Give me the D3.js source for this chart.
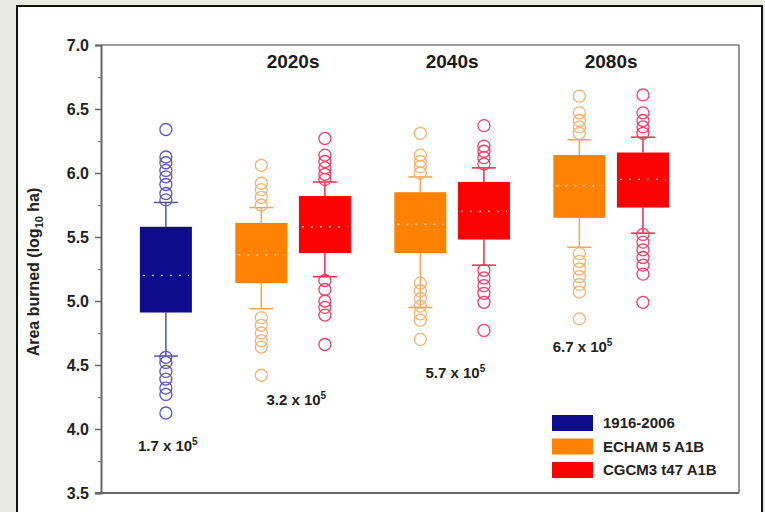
<!DOCTYPE html>
<html>
<head>
<meta charset="utf-8">
<script src="https://cdn.jsdelivr.net/npm/d3@7/dist/d3.min.js"></script>
<style>
  html, body { margin: 0; padding: 0; background: #e9ebe2; }
  svg { display: block; font-family: "Liberation Sans", Arial, sans-serif; }
</style>
</head>
<body>
<svg id="chart" width="765" height="512"></svg>
<script>
// Series and periods
const seriesNames = ["1916-2006", "ECHAM 5 A1B", "CGCM3 t47 A1B"];
const periodLabels = ["2020s", "2040s", "2080s"];
const periodSlots = [2, 4.5, 7];

// One box per entry: series index and slot along the x axis
const boxSeries = [0, 1, 2, 1, 2, 1, 2];
const boxSlots = [0, 1.5, 2.5, 4, 5, 6.5, 7.5];

// Box statistics (log10 ha)
const q1Values = [4.91, 5.14, 5.375, 5.375, 5.48, 5.65, 5.73];
const medianValues = [5.20, 5.36, 5.58, 5.60, 5.70, 5.90, 5.95];
const q3Values = [5.58, 5.61, 5.82, 5.85, 5.93, 6.14, 6.16];
const whiskerLow = [4.57, 4.94, 5.19, 4.95, 5.28, 5.42, 5.53];
const whiskerHigh = [5.77, 5.73, 5.93, 5.97, 6.04, 6.26, 6.28];

// Outlying years above and below the whiskers
const outliersHigh = [
  [5.79, 5.84, 5.91, 5.97, 6.02, 6.08, 6.125, 6.34],
  [5.75, 5.81, 5.87, 5.92, 6.06],
  [5.95, 5.99, 6.04, 6.09, 6.14, 6.27],
  [6.0, 6.05, 6.09, 6.14, 6.31],
  [6.07, 6.12, 6.17, 6.21, 6.37],
  [6.31, 6.36, 6.41, 6.47, 6.6],
  [6.31, 6.36, 6.41, 6.47, 6.61]
];
const outliersLow = [
  [4.56, 4.52, 4.45, 4.39, 4.32, 4.27, 4.125],
  [4.87, 4.81, 4.75, 4.69, 4.64, 4.42],
  [5.16, 5.09, 5.0, 4.95, 4.89, 4.66],
  [5.14, 5.08, 5.02, 4.96, 4.9, 4.85, 4.7],
  [5.24, 5.18, 5.12, 5.06, 4.99, 4.77],
  [5.37, 5.31, 5.25, 5.19, 5.13, 5.07, 4.86],
  [5.52, 5.46, 5.4, 5.34, 5.28, 5.21, 4.99]
];

// Mean annual area burned notes
const areaNotes = ["1.7 x 10", "3.2 x 10", "5.7 x 10", "6.7 x 10"];
const areaNoteExp = ["5", "5", "5", "5"];
const areaNoteSlots = [0.03, 2.05, 4.55, 6.55];
const areaNoteValues = [3.83, 4.19, 4.40, 4.60];

// Axis ticks
const yMajorTicks = [3.5, 4.0, 4.5, 5.0, 5.5, 6.0, 6.5, 7.0];
const yMinorTicks = [3.75, 4.25, 4.75, 5.25, 5.75, 6.25, 6.75];

// Styling
const boxColors = ["#0e0b8c", "#ff8204", "#fc0303"];
const whiskerColors = ["#55559e", "#f4a458", "#f5284a"];
const outlierColors = ["#5a58c0", "#f6b274", "#ee4068"];

const svg = d3.select("#chart");

// Page panel with black frame
svg.append("rect")
  .attr("x", 17).attr("y", 6)
  .attr("width", 745).attr("height", 530)
  .attr("fill", "#ffffff")
  .attr("stroke", "#111").attr("stroke-width", 2);

const plot = { left: 101, right: 739, top: 45, bottom: 493 };

const x = d3.scaleLinear().domain([-1.02, 9.01]).range([plot.left, plot.right]);
const y = d3.scaleLinear().domain([3.5, 7.0]).range([plot.bottom, plot.top]);
const boxW = 52;

// Plot frame
svg.append("line")
  .attr("x1", plot.left).attr("x2", plot.right)
  .attr("y1", plot.top).attr("y2", plot.top)
  .attr("stroke", "#7c7c7c").attr("stroke-width", 1.6);
svg.append("line")
  .attr("x1", plot.right).attr("x2", plot.right)
  .attr("y1", plot.top).attr("y2", plot.bottom)
  .attr("stroke", "#7c7c7c").attr("stroke-width", 1.6);

// Y axis with major and minor ticks
const yAxis = d3.axisLeft(y)
  .tickValues(yMajorTicks)
  .tickFormat(d3.format(".1f"))
  .tickSize(6)
  .tickPadding(6);
const gy = svg.append("g")
  .attr("transform", `translate(${plot.left},0)`)
  .call(yAxis);
gy.select(".domain").attr("stroke", "#666").attr("stroke-width", 2);
gy.selectAll(".tick line").attr("stroke", "#666").attr("stroke-width", 1.5);
gy.selectAll(".tick text")
  .attr("font-size", 16).attr("font-weight", "bold")
  .attr("fill", "#222")
  .attr("font-family", "'Liberation Sans', Arial, sans-serif");

const yMinor = d3.axisLeft(y).tickValues(yMinorTicks).tickSize(3).tickFormat("");
const gm = svg.append("g")
  .attr("transform", `translate(${plot.left},0)`)
  .call(yMinor);
gm.select(".domain").remove();
gm.selectAll(".tick line").attr("stroke", "#777").attr("stroke-width", 1.2);

// X axis line (no ticks)
svg.append("line")
  .attr("x1", plot.left - 6).attr("x2", plot.right)
  .attr("y1", plot.bottom).attr("y2", plot.bottom)
  .attr("stroke", "#666").attr("stroke-width", 2);

// Y axis title
const yTitle = svg.append("text")
  .attr("transform", `translate(39,${(plot.top + plot.bottom) / 2 + 3}) rotate(-90)`)
  .attr("text-anchor", "middle")
  .attr("font-size", 16).attr("font-weight", "bold").attr("fill", "#222");
yTitle.append("tspan").text("Area burned (log");
yTitle.append("tspan").attr("font-size", 11).attr("dy", 4).text("10");
yTitle.append("tspan").attr("dy", -4).text(" ha)");

// Period headings
svg.selectAll("text.period")
  .data(periodLabels)
  .join("text")
  .attr("class", "period")
  .attr("x", (d, i) => x(periodSlots[i]))
  .attr("y", 68)
  .attr("text-anchor", "middle")
  .attr("font-size", 19).attr("font-weight", "bold").attr("fill", "#1a1a1a")
  .text(d => d);

// Boxes
const boxes = boxSlots.map((s, i) => ({
  slot: s, series: boxSeries[i],
  q1: q1Values[i], med: medianValues[i], q3: q3Values[i],
  lo: whiskerLow[i], hi: whiskerHigh[i],
  outHi: outliersHigh[i], outLo: outliersLow[i]
}));

const g = svg.append("g");
boxes.forEach(b => {
  const cx = x(b.slot);
  const wc = whiskerColors[b.series];
  // whiskers
  g.append("line").attr("x1", cx).attr("x2", cx)
    .attr("y1", y(b.q3)).attr("y2", y(b.hi))
    .attr("stroke", wc).attr("stroke-width", 1.5);
  g.append("line").attr("x1", cx).attr("x2", cx)
    .attr("y1", y(b.q1)).attr("y2", y(b.lo))
    .attr("stroke", wc).attr("stroke-width", 1.5);
  [b.hi, b.lo].forEach(v => {
    g.append("line").attr("x1", cx - 12).attr("x2", cx + 12)
      .attr("y1", y(v)).attr("y2", y(v))
      .attr("stroke", wc).attr("stroke-width", 1.5);
  });
  // box
  g.append("rect")
    .attr("x", cx - boxW / 2).attr("width", boxW)
    .attr("y", y(b.q3)).attr("height", y(b.q1) - y(b.q3))
    .attr("fill", boxColors[b.series]);
  // median
  g.append("line")
    .attr("x1", cx - boxW / 2 + 3).attr("x2", cx + boxW / 2 - 3)
    .attr("y1", y(b.med)).attr("y2", y(b.med))
    .attr("stroke", "#ffffff").attr("stroke-opacity", 0.75)
    .attr("stroke-width", 1.4).attr("stroke-dasharray", "2,7");
  // outliers
  g.selectAll(null)
    .data(b.outHi.concat(b.outLo))
    .join("circle")
    .attr("cx", cx).attr("cy", d => y(d)).attr("r", 6)
    .attr("fill", "none")
    .attr("stroke", outlierColors[b.series]).attr("stroke-width", 1.3);
});

// Area burned notes
areaNotes.forEach((t, i) => {
  const tx = svg.append("text")
    .attr("x", x(areaNoteSlots[i])).attr("y", y(areaNoteValues[i]))
    .attr("text-anchor", "middle")
    .attr("font-size", 15).attr("font-weight", "bold").attr("fill", "#222");
  tx.append("tspan").text(t);
  tx.append("tspan").attr("font-size", 10).attr("dy", -6).text(areaNoteExp[i]);
});

// Legend
const legend = svg.append("g").attr("transform", "translate(552,415)");
seriesNames.forEach((n, i) => {
  legend.append("rect")
    .attr("x", 0).attr("y", i * 23.5)
    .attr("width", 41).attr("height", 16)
    .attr("fill", boxColors[i]);
  legend.append("text")
    .attr("x", 51).attr("y", i * 23.5 + 13)
    .attr("font-size", 15).attr("font-weight", "bold").attr("fill", "#222")
    .text(n);
});
</script>
</body>
</html>
